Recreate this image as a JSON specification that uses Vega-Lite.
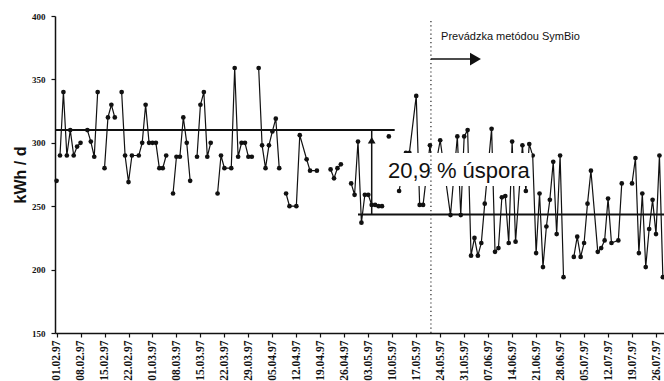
{
  "$schema": "https://vega.github.io/schema/vega-lite/v6.json",
  "width": 609,
  "height": 317,
  "autosize": {"type": "none"},
  "padding": {"left": 55, "top": 16, "right": 0, "bottom": 48},
  "background": "white",
  "config": {
    "view": {"stroke": null},
    "axis": {"domainColor": "#111", "domainWidth": 1.5, "tickColor": "#111", "tickWidth": 1.2, "labelColor": "#111", "titleColor": "#111", "grid": false},
    "axisX": {"labelOverlap": false, "labelFlush": false, "labelBound": false}
  },
  "datasets": {
    "kwh": [
      {"d": "1997-02-01", "v": 270, "s": 1},
      {"d": "1997-02-02", "v": 290, "s": 2},
      {"d": "1997-02-03", "v": 340, "s": 2},
      {"d": "1997-02-04", "v": 290, "s": 2},
      {"d": "1997-02-05", "v": 310, "s": 2},
      {"d": "1997-02-06", "v": 290, "s": 2},
      {"d": "1997-02-07", "v": 297, "s": 2},
      {"d": "1997-02-08", "v": 300, "s": 2},
      {"d": "1997-02-10", "v": 310, "s": 3},
      {"d": "1997-02-11", "v": 301, "s": 3},
      {"d": "1997-02-12", "v": 289, "s": 3},
      {"d": "1997-02-13", "v": 340, "s": 3},
      {"d": "1997-02-15", "v": 280, "s": 4},
      {"d": "1997-02-16", "v": 320, "s": 4},
      {"d": "1997-02-17", "v": 330, "s": 4},
      {"d": "1997-02-18", "v": 320, "s": 4},
      {"d": "1997-02-20", "v": 340, "s": 5},
      {"d": "1997-02-21", "v": 290, "s": 5},
      {"d": "1997-02-22", "v": 269, "s": 5},
      {"d": "1997-02-23", "v": 290, "s": 5},
      {"d": "1997-02-25", "v": 290, "s": 5},
      {"d": "1997-02-26", "v": 300, "s": 5},
      {"d": "1997-02-27", "v": 330, "s": 5},
      {"d": "1997-02-28", "v": 300, "s": 5},
      {"d": "1997-03-01", "v": 300, "s": 5},
      {"d": "1997-03-02", "v": 300, "s": 5},
      {"d": "1997-03-03", "v": 280, "s": 5},
      {"d": "1997-03-04", "v": 280, "s": 5},
      {"d": "1997-03-05", "v": 290, "s": 5},
      {"d": "1997-03-07", "v": 260, "s": 6},
      {"d": "1997-03-08", "v": 289, "s": 6},
      {"d": "1997-03-09", "v": 289, "s": 6},
      {"d": "1997-03-10", "v": 320, "s": 6},
      {"d": "1997-03-11", "v": 300, "s": 6},
      {"d": "1997-03-12", "v": 270, "s": 6},
      {"d": "1997-03-14", "v": 289, "s": 7},
      {"d": "1997-03-15", "v": 330, "s": 7},
      {"d": "1997-03-16", "v": 340, "s": 7},
      {"d": "1997-03-17", "v": 289, "s": 7},
      {"d": "1997-03-18", "v": 300, "s": 7},
      {"d": "1997-03-20", "v": 260, "s": 8},
      {"d": "1997-03-21", "v": 290, "s": 8},
      {"d": "1997-03-22", "v": 280, "s": 8},
      {"d": "1997-03-24", "v": 280, "s": 8},
      {"d": "1997-03-25", "v": 359, "s": 8},
      {"d": "1997-03-26", "v": 289, "s": 8},
      {"d": "1997-03-27", "v": 300, "s": 8},
      {"d": "1997-03-28", "v": 300, "s": 8},
      {"d": "1997-03-29", "v": 289, "s": 8},
      {"d": "1997-03-30", "v": 289, "s": 8},
      {"d": "1997-04-01", "v": 359, "s": 9},
      {"d": "1997-04-02", "v": 298, "s": 9},
      {"d": "1997-04-03", "v": 280, "s": 9},
      {"d": "1997-04-04", "v": 298, "s": 9},
      {"d": "1997-04-05", "v": 309, "s": 9},
      {"d": "1997-04-06", "v": 319, "s": 9},
      {"d": "1997-04-07", "v": 280, "s": 9},
      {"d": "1997-04-09", "v": 260, "s": 10},
      {"d": "1997-04-10", "v": 250, "s": 10},
      {"d": "1997-04-12", "v": 250, "s": 10},
      {"d": "1997-04-13", "v": 306, "s": 10},
      {"d": "1997-04-15", "v": 287, "s": 10},
      {"d": "1997-04-16", "v": 278, "s": 10},
      {"d": "1997-04-18", "v": 278, "s": 10},
      {"d": "1997-04-22", "v": 279, "s": 11},
      {"d": "1997-04-23", "v": 272, "s": 11},
      {"d": "1997-04-24", "v": 280, "s": 11},
      {"d": "1997-04-25", "v": 283, "s": 11},
      {"d": "1997-04-28", "v": 268, "s": 12},
      {"d": "1997-04-29", "v": 259, "s": 12},
      {"d": "1997-04-30", "v": 301, "s": 12},
      {"d": "1997-05-01", "v": 237, "s": 12},
      {"d": "1997-05-02", "v": 259, "s": 12},
      {"d": "1997-05-03", "v": 259, "s": 12},
      {"d": "1997-05-04", "v": 251, "s": 12},
      {"d": "1997-05-05", "v": 251, "s": 12},
      {"d": "1997-05-06", "v": 250, "s": 12},
      {"d": "1997-05-07", "v": 250, "s": 12},
      {"d": "1997-05-09", "v": 305, "s": 13},
      {"d": "1997-05-12", "v": 262, "s": 14},
      {"d": "1997-05-14", "v": 292, "s": 14},
      {"d": "1997-05-15", "v": 292, "s": 14},
      {"d": "1997-05-17", "v": 337, "s": 14},
      {"d": "1997-05-18", "v": 251, "s": 14},
      {"d": "1997-05-19", "v": 251, "s": 14},
      {"d": "1997-05-21", "v": 298, "s": 14},
      {"d": "1997-05-22", "v": 272, "s": 14},
      {"d": "1997-05-24", "v": 302, "s": 14},
      {"d": "1997-05-27", "v": 243, "s": 14},
      {"d": "1997-05-29", "v": 305, "s": 14},
      {"d": "1997-05-30", "v": 243, "s": 14},
      {"d": "1997-05-31", "v": 305, "s": 14},
      {"d": "1997-06-01", "v": 310, "s": 14},
      {"d": "1997-06-02", "v": 211, "s": 14},
      {"d": "1997-06-03", "v": 225, "s": 14},
      {"d": "1997-06-04", "v": 211, "s": 14},
      {"d": "1997-06-05", "v": 221, "s": 14},
      {"d": "1997-06-06", "v": 252, "s": 14},
      {"d": "1997-06-08", "v": 311, "s": 14},
      {"d": "1997-06-09", "v": 214, "s": 14},
      {"d": "1997-06-10", "v": 217, "s": 14},
      {"d": "1997-06-11", "v": 257, "s": 14},
      {"d": "1997-06-12", "v": 258, "s": 14},
      {"d": "1997-06-13", "v": 221, "s": 14},
      {"d": "1997-06-14", "v": 301, "s": 14},
      {"d": "1997-06-15", "v": 222, "s": 14},
      {"d": "1997-06-17", "v": 298, "s": 14},
      {"d": "1997-06-18", "v": 262, "s": 14},
      {"d": "1997-06-19", "v": 299, "s": 14},
      {"d": "1997-06-20", "v": 290, "s": 14},
      {"d": "1997-06-21", "v": 213, "s": 14},
      {"d": "1997-06-22", "v": 260, "s": 14},
      {"d": "1997-06-23", "v": 202, "s": 14},
      {"d": "1997-06-24", "v": 234, "s": 14},
      {"d": "1997-06-25", "v": 255, "s": 14},
      {"d": "1997-06-26", "v": 285, "s": 14},
      {"d": "1997-06-27", "v": 228, "s": 14},
      {"d": "1997-06-28", "v": 290, "s": 14},
      {"d": "1997-06-29", "v": 194, "s": 14},
      {"d": "1997-07-02", "v": 210, "s": 15},
      {"d": "1997-07-03", "v": 226, "s": 15},
      {"d": "1997-07-04", "v": 210, "s": 15},
      {"d": "1997-07-05", "v": 221, "s": 15},
      {"d": "1997-07-06", "v": 252, "s": 15},
      {"d": "1997-07-07", "v": 278, "s": 15},
      {"d": "1997-07-09", "v": 214, "s": 15},
      {"d": "1997-07-10", "v": 217, "s": 15},
      {"d": "1997-07-11", "v": 223, "s": 15},
      {"d": "1997-07-12", "v": 256, "s": 15},
      {"d": "1997-07-13", "v": 221, "s": 15},
      {"d": "1997-07-15", "v": 223, "s": 15},
      {"d": "1997-07-16", "v": 268, "s": 15},
      {"d": "1997-07-19", "v": 268, "s": 16},
      {"d": "1997-07-20", "v": 288, "s": 16},
      {"d": "1997-07-21", "v": 213, "s": 16},
      {"d": "1997-07-22", "v": 260, "s": 16},
      {"d": "1997-07-23", "v": 202, "s": 16},
      {"d": "1997-07-24", "v": 232, "s": 16},
      {"d": "1997-07-25", "v": 255, "s": 16},
      {"d": "1997-07-26", "v": 228, "s": 16},
      {"d": "1997-07-27", "v": 290, "s": 16},
      {"d": "1997-07-28", "v": 194, "s": 16}
    ],
    "means": [
      {"d": "1997-01-31T13:00:00Z", "d2": "1997-05-10T17:00:00Z", "v": 310},
      {"d": "1997-04-30T00:00:00Z", "d2": "1997-07-28T08:00:00Z", "v": 243.5}
    ]
  },
  "encoding": {
    "x": {
      "field": "d", "type": "temporal",
      "scale": {"type": "utc", "domain": [854715600000, 870076800000]},
      "axis": {
        "title": null, "format": "%d.%m.%y", "labelAngle": -90, "labelFont": "Liberation Sans Narrow", "labelFontWeight": "bold", "labelFontSize": 11.5,
        "labelPadding": 3, "tickSize": 4, "labelOverlap": false, "labelFlush": false, "labelSeparation": 0,
        "values": [854755200000, 855360000000, 855964800000, 856569600000, 857174400000, 857779200000, 858384000000, 858988800000, 859593600000, 860198400000, 860803200000, 861408000000, 862012800000, 862617600000, 863222400000, 863827200000, 864432000000, 865036800000, 865641600000, 866246400000, 866851200000, 867456000000, 868060800000, 868665600000, 869270400000, 869875200000]
      }
    },
    "y": {
      "field": "v", "type": "quantitative",
      "scale": {"domain": [150, 400], "nice": false, "zero": false},
      "axis": {
        "title": "kWh / d", "titleFont": "Liberation Sans", "titleFontSize": 16, "titleFontWeight": "bold", "titlePadding": 3,
        "values": [150, 200, 250, 300, 350, 400], "labelFont": "Liberation Sans Narrow", "labelFontWeight": "bold", "labelFontSize": 9, "tickSize": 4, "labelPadding": 6
      }
    }
  },
  "layer": [
    {
      "data": {"name": "kwh"},
      "mark": {"type": "line", "color": "#111", "strokeWidth": 1.2},
      "encoding": {"detail": {"field": "s", "type": "nominal"}}
    },
    {
      "data": {"name": "kwh"},
      "mark": {"type": "point", "filled": true, "color": "#111", "size": 22, "opacity": 1}
    },
    {
      "data": {"values": [{"d": "1997-05-08T00:00:00Z", "d2": "1997-06-19T16:00:00Z", "v": 266, "v2": 292}]},
      "mark": {"type": "rect", "color": "white", "opacity": 1},
      "encoding": {"x2": {"field": "d2"}, "y2": {"field": "v2"}}
    },
    {
      "data": {"values": [{"d": "1997-05-08T18:00:00Z", "v": 272, "t": "20,9 % úspora"}]},
      "mark": {"type": "text", "align": "left", "baseline": "alphabetic", "font": "Liberation Sans", "fontSize": 22, "color": "#111"},
      "encoding": {"text": {"field": "t"}}
    },
    {
      "data": {"name": "means"},
      "mark": {"type": "rule", "color": "#111", "strokeWidth": 2},
      "encoding": {"x2": {"field": "d2"}}
    },
    {
      "data": {"values": [{"d": "1997-05-04T00:00:00Z", "v": 243.5, "v2": 310}]},
      "mark": {"type": "rule", "color": "#111", "strokeWidth": 1.5},
      "encoding": {"y2": {"field": "v2"}}
    },
    {
      "data": {"values": [{"d": "1997-05-04T00:00:00Z", "v": 302}]},
      "mark": {"type": "point", "shape": "triangle-up", "filled": true, "color": "#111", "size": 60, "opacity": 1}
    },
    {
      "data": {"values": [{"d": "1997-05-21T07:00:00Z", "v": 150, "v2": 398}]},
      "mark": {"type": "rule", "color": "#222", "strokeWidth": 1.2, "strokeDash": [1.2, 3]},
      "encoding": {"y2": {"field": "v2"}}
    },
    {
      "data": {"values": [{"d": "1997-05-21T07:00:00Z", "d2": "1997-06-03T07:00:00Z", "v": 366}]},
      "mark": {"type": "rule", "color": "#111", "strokeWidth": 1.5},
      "encoding": {"x2": {"field": "d2"}}
    },
    {
      "data": {"values": [{"d": "1997-06-03T07:00:00Z", "v": 366}]},
      "mark": {"type": "point", "shape": "triangle-right", "filled": true, "color": "#111", "size": 160, "opacity": 1}
    },
    {
      "data": {"values": [{"d": "1997-05-24T06:00:00Z", "v": 381, "t": "Prevádzka metódou SymBio"}]},
      "mark": {"type": "text", "align": "left", "baseline": "alphabetic", "font": "Liberation Sans", "fontSize": 11, "color": "#111"},
      "encoding": {"text": {"field": "t"}}
    }
  ]
}
